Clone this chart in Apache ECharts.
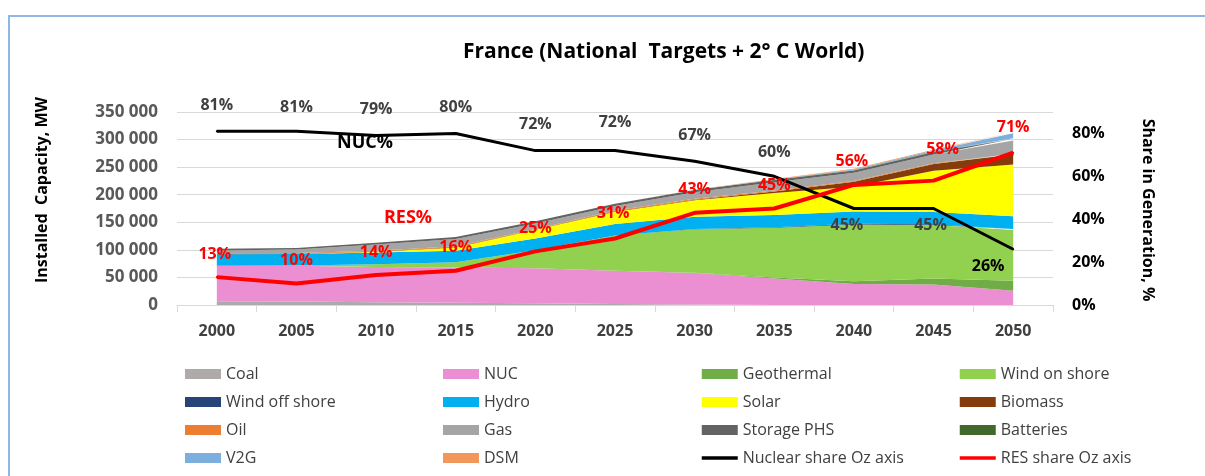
<!DOCTYPE html>
<html>
<head>
    <meta charset="utf-8">
    <title>France (National Targets + 2° C World)</title>
    <script src="https://cdn.jsdelivr.net/npm/echarts@6/dist/echarts.min.js"></script>
    <style>
        * { margin: 0; padding: 0; }
        body { background: #fff; }
        #chart { width: 1205px; height: 476px; }
    </style>
</head>
<body>
    <div id="chart"></div>
    <script>
        // years on the x axis
        var years = ['2000', '2005', '2010', '2015', '2020', '2025', '2030', '2035', '2040', '2045', '2050'];

        // installed capacity, MW (stacked, bottom to top)
        var coal       = [7000, 6500, 5000, 4000, 3000, 2000, 1000, 0, 0, 0, 0];
        var nuc        = [64000, 64500, 64000, 64000, 63500, 60000, 57000, 48000, 38000, 37000, 26000];
        var geothermal = [0, 0, 0, 0, 0, 0, 500, 2000, 5000, 11000, 18000];
        var windOn     = [0, 500, 5000, 9500, 33000, 64000, 79000, 90000, 103000, 97000, 92000];
        var windOff    = [0, 0, 0, 0, 0, 0, 500, 1000, 1500, 1500, 2000];
        var hydro      = [21000, 21000, 21000, 21000, 21000, 21000, 22000, 22000, 22000, 22000, 23000];
        var solar      = [0, 0, 1500, 6000, 16000, 22000, 30000, 40000, 45000, 75000, 94000];
        var biomass    = [500, 500, 500, 500, 500, 1000, 1000, 3000, 9000, 12000, 18000];
        var oil        = [1500, 1500, 1500, 1500, 1000, 1500, 1500, 1500, 1500, 1500, 1500];
        var gas        = [5000, 6000, 11000, 13000, 10000, 8000, 12000, 15000, 15000, 16000, 24000];
        var storagePhs = [3000, 3000, 3500, 4000, 4000, 4000, 4000, 4000, 4000, 4000, 3000];
        var batteries  = [0, 0, 0, 0, 0, 0, 0, 500, 500, 1000, 1000];
        var v2g        = [0, 0, 0, 0, 0, 0, 0, 500, 1000, 2000, 9000];
        var dsm        = [0, 0, 0, 0, 0, 0, 500, 1000, 1500, 1500, 2000];

        // shares in generation, %
        var nucShare = [81, 81, 79, 80, 72, 72, 67, 60, 45, 45, 26];
        var resShare = [13, 10, 14, 16, 25, 31, 43, 45, 56, 58, 71];

        // label placement tweaks (style only)
        var nucLabelBelow = [false, false, false, false, false, false, false, false, true, true, true];
        var nucLabelShift = [[0, 0], [0, 2], [0, 0], [0, 0], [0, 0], [0, -2], [0, 0], [0, 2], [-7, 0], [-3, 0], [-25, 0]];
        var resLabelShift = [[-2, 0], [0, 0], [0, 0], [0, 0], [0, 0], [-2, -2], [0, 0], [0, 0], [-2, 0], [9, -8], [0, -2]];

        var areas = [
            ['Coal', coal, '#aeaaaa'],
            ['NUC', nuc, '#ec8fd2'],
            ['Geothermal', geothermal, '#70ad47'],
            ['Wind on shore', windOn, '#92d050'],
            ['Wind off shore', windOff, '#264478'],
            ['Hydro', hydro, '#00b0f0'],
            ['Solar', solar, '#ffff00'],
            ['Biomass', biomass, '#843c0c'],
            ['Oil', oil, '#ed7d31'],
            ['Gas', gas, '#a5a5a5'],
            ['Storage PHS', storagePhs, '#636363'],
            ['Batteries', batteries, '#43682b'],
            ['V2G', v2g, '#7cafdd'],
            ['DSM', dsm, '#f1975a']
        ];

        var series = areas.map(function (a) {
            return {
                name: a[0],
                type: 'line',
                stack: 'cap',
                data: a[1],
                symbol: 'none',
                lineStyle: { width: 0 },
                itemStyle: { color: a[2] },
                areaStyle: { color: a[2], opacity: 1 },
                z: 2
            };
        });

        var nucData = nucShare.map(function (v, i) {
            var below = nucLabelBelow[i];
            return {
                value: v,
                label: {
                    position: below ? 'bottom' : 'top',
                    distance: below ? 8 : 17,
                    offset: nucLabelShift[i],
                    color: i === 10 ? '#000' : '#404040'
                }
            };
        });
        var resData = resShare.map(function (v, i) {
            return { value: v, label: { offset: resLabelShift[i] } };
        });

        series.push({
            name: 'Nuclear share Oz axis',
            type: 'line',
            yAxisIndex: 1,
            data: nucData,
            symbol: 'circle',
            symbolSize: 2,
            showSymbol: true,
            lineStyle: { color: '#000', width: 3 },
            itemStyle: { color: '#000' },
            label: {
                show: true,
                formatter: '{c}%',
                fontFamily: 'Open Sans',
                fontWeight: 'bold',
                fontSize: 16
            },
            z: 5
        });
        series.push({
            name: 'RES share Oz axis',
            type: 'line',
            yAxisIndex: 1,
            data: resData,
            symbol: 'circle',
            symbolSize: 2,
            showSymbol: true,
            lineStyle: { color: '#ff0000', width: 4 },
            itemStyle: { color: '#ff0000' },
            label: {
                show: true,
                position: 'top',
                distance: 14,
                formatter: '{c}%',
                color: '#ff0000',
                fontFamily: 'Open Sans',
                fontWeight: 'bold',
                fontSize: 16
            },
            z: 6
        });

        // legend: four columns like the original
        var columns = [
            ['Coal', 'Wind off shore', 'Oil', 'V2G'],
            ['NUC', 'Hydro', 'Gas', 'DSM'],
            ['Geothermal', 'Solar', 'Storage PHS', 'Nuclear share Oz axis'],
            ['Wind on shore', 'Biomass', 'Batteries', 'RES share Oz axis']
        ];
        var colLeft = [185, 443, 700, 958];
        var legends = columns.map(function (names, c) {
            return {
                orient: 'vertical',
                left: colLeft[c],
                top: 365,
                padding: 0,
                itemWidth: 36,
                itemHeight: 10,
                itemGap: 10,
                selectedMode: false,
                data: names.map(function (n) {
                    if (n.indexOf('share') > 0) {
                        return {
                            name: n,
                            itemStyle: { opacity: 0 },
                            lineStyle: { width: 3.5 }
                        };
                    }
                    return { name: n, icon: 'rect' };
                }),
                textStyle: {
                    fontFamily: 'Open Sans',
                    fontSize: 16,
                    lineHeight: 18,
                    color: '#404040'
                }
            };
        });

        var chart = echarts.init(document.getElementById('chart'));
        var option = {
            animation: false,
            backgroundColor: '#fff',
            title: {
                text: 'France (National  Targets + 2° C World)',
                left: 458,
                top: 37,
                textStyle: { fontFamily: 'Open Sans', fontWeight: 'bold', fontSize: 21, color: '#000' }
            },
            legend: legends,
            grid: { left: 177, right: 152, top: 112, bottom: 171 },
            xAxis: {
                type: 'category',
                data: years,
                boundaryGap: true,
                axisLine: { lineStyle: { color: '#d9d9d9', width: 1 } },
                axisTick: { show: true, length: 7, lineStyle: { color: '#d9d9d9' } },
                axisLabel: {
                    margin: 18,
                    fontFamily: 'Open Sans',
                    fontWeight: 'bold',
                    fontSize: 16,
                    color: '#404040'
                }
            },
            yAxis: [{
                type: 'value',
                min: 0,
                max: 350000,
                interval: 50000,
                axisLine: { show: false },
                axisTick: { show: false },
                splitLine: { lineStyle: { color: '#d9d9d9', width: 1 } },
                axisLabel: {
                    margin: 19,
                    fontFamily: 'Open Sans',
                    fontWeight: 'bold',
                    fontSize: 17,
                    color: '#595959',
                    formatter: function (v) {
                        return String(v).replace(/\B(?=(\d{3})+(?!\d))/g, ' ');
                    }
                }
            }, {
                type: 'value',
                min: 0,
                max: 90,
                interval: 20,
                position: 'right',
                axisLine: { show: false },
                axisTick: { show: false },
                splitLine: { show: false },
                axisLabel: {
                    margin: 19,
                    showMaxLabel: false,
                    fontFamily: 'Open Sans',
                    fontWeight: 'bold',
                    fontSize: 16,
                    color: '#000',
                    formatter: '{value}%'
                }
            }],
            graphic: [
                {
                    type: 'rect',
                    shape: { x: 9, y: 16, width: 1400, height: 700 },
                    style: { fill: 'none', stroke: '#8fb6e4', lineWidth: 2 },
                    silent: true
                },
                {
                    type: 'text',
                    x: 42, y: 190, rotation: Math.PI / 2,
                    style: {
                        text: 'Installed  Capacity, MW',
                        fontFamily: 'Open Sans', fontWeight: 'bold', fontSize: 16, fill: '#000',
                        align: 'center', verticalAlign: 'middle'
                    }
                },
                {
                    type: 'text',
                    x: 1148, y: 210, rotation: -Math.PI / 2,
                    style: {
                        text: 'Share in Generation, %',
                        fontFamily: 'Open Sans', fontWeight: 'bold', fontSize: 16, fill: '#000',
                        align: 'center', verticalAlign: 'middle'
                    }
                },
                {
                    type: 'text',
                    x: 365, y: 143, z: 10,
                    style: {
                        text: 'NUC%',
                        fontFamily: 'Open Sans', fontWeight: 'bold', fontSize: 18, fill: '#000',
                        align: 'center', verticalAlign: 'middle'
                    }
                },
                {
                    type: 'text',
                    x: 408, y: 218, z: 10,
                    style: {
                        text: 'RES%',
                        fontFamily: 'Open Sans', fontWeight: 'bold', fontSize: 18, fill: '#ff0000',
                        align: 'center', verticalAlign: 'middle'
                    }
                }
            ],
            series: series
        };
        chart.setOption(option);
    </script>
</body>
</html>
